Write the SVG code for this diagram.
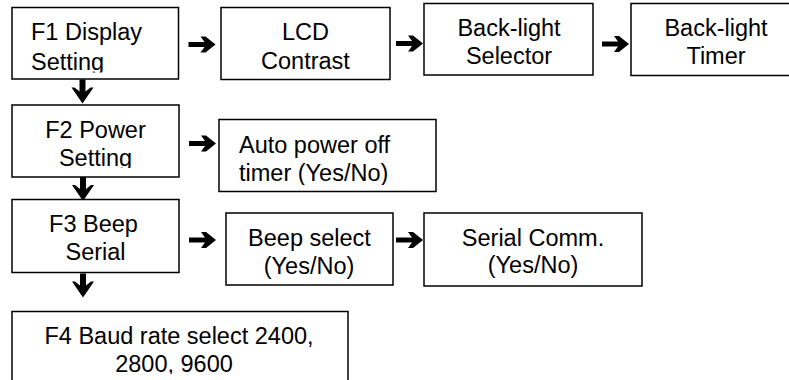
<svg xmlns="http://www.w3.org/2000/svg" width="789" height="380" viewBox="0 0 789 380">
<style>
  .box { fill: #ffffff; stroke: #000000; stroke-width: 1.5; }
  .t { font-family: "Liberation Sans", Arial, sans-serif; font-size: 23.5px; fill: #000000; }
  .c { text-anchor: middle; }
  .arr { fill: #000000; stroke: none; }
</style>
<defs>
  <path id="ra" d="M0,-2.6 L16,-2.6 L12,-8 L17,-8 L27,0 L17,8 L12,8 L16,2.6 L0,2.6 Z"/>
  <path id="da" d="M-3,0 L3,0 L3,12 L8,8 L11,8 L0,24 L-11,8 L-8,8 L-3,12 Z"/>
  <clipPath id="clipF1"><rect x="12" y="7" width="167" height="65.5"/></clipPath>
  <clipPath id="clipF2"><rect x="12" y="105" width="167" height="63"/></clipPath>
  <clipPath id="clipAuto"><rect x="219" y="119" width="217" height="66"/></clipPath>
  <clipPath id="clipF4"><rect x="12" y="312" width="336" height="62"/></clipPath>
</defs>

<g id="connectors">
  <use href="#ra" x="188.5" y="44.5" class="arr"/>
  <use href="#ra" x="396" y="43.5" class="arr"/>
  <use href="#ra" x="602" y="44" class="arr"/>
  <use href="#ra" x="189" y="143.5" class="arr"/>
  <use href="#ra" x="189" y="240" class="arr"/>
  <use href="#ra" x="396" y="240" class="arr"/>
  <use href="#da" x="82.5" y="79.5" class="arr"/>
  <use href="#da" x="83" y="177" class="arr"/>
  <use href="#da" x="83" y="273.5" class="arr"/>
</g>

<g id="f1">
  <rect class="box" x="12" y="7.5" width="166.5" height="71.5"/>
  <g clip-path="url(#clipF1)">
    <text class="t" x="31" y="40">F1 Display</text>
    <text class="t" x="31" y="69.5">Setting</text>
  </g>
</g>

<g id="lcd">
  <rect class="box" x="221" y="7.5" width="169" height="72"/>
  <text class="t c" x="305.5" y="40">LCD</text>
  <text class="t c" x="305.5" y="68.5">Contrast</text>
</g>

<g id="bl-selector">
  <rect class="box" x="424" y="3.5" width="169" height="71.5"/>
  <text class="t c" x="509" y="35.5">Back-light</text>
  <text class="t c" x="509" y="63.5">Selector</text>
</g>

<g id="bl-timer">
  <rect class="box" x="631" y="3.5" width="170" height="72"/>
  <text class="t c" x="716" y="35.5">Back-light</text>
  <text class="t c" x="716" y="63.5">Timer</text>
</g>

<g id="f2">
  <rect class="box" x="12" y="105" width="167" height="72"/>
  <g clip-path="url(#clipF2)">
    <text class="t c" x="95.5" y="138">F2 Power</text>
    <text class="t c" x="95.5" y="166">Setting</text>
  </g>
</g>

<g id="auto-power">
  <rect class="box" x="219" y="119.5" width="217" height="72"/>
  <g clip-path="url(#clipAuto)">
    <text class="t" x="239" y="152.5">Auto power off</text>
    <text class="t" x="239" y="180.5">timer (Yes/No)</text>
  </g>
</g>

<g id="f3">
  <rect class="box" x="12" y="199.5" width="167" height="73"/>
  <text class="t c" x="93.5" y="232">F3 Beep</text>
  <text class="t c" x="95.5" y="260">Serial</text>
</g>

<g id="beep-select">
  <rect class="box" x="226" y="213" width="167" height="72"/>
  <text class="t c" x="309.5" y="246">Beep select</text>
  <text class="t c" x="309" y="273.5">(Yes/No)</text>
</g>

<g id="serial-comm">
  <rect class="box" x="424" y="213" width="218" height="73"/>
  <text class="t c" x="533" y="245.5">Serial Comm.</text>
  <text class="t c" x="533" y="273">(Yes/No)</text>
</g>

<g id="f4">
  <rect class="box" x="12" y="311.5" width="336" height="80"/>
  <g clip-path="url(#clipF4)">
    <text class="t c" x="179" y="343.5">F4 Baud rate select 2400,</text>
    <text class="t c" x="174" y="372">2800, 9600</text>
  </g>
</g>
</svg>
